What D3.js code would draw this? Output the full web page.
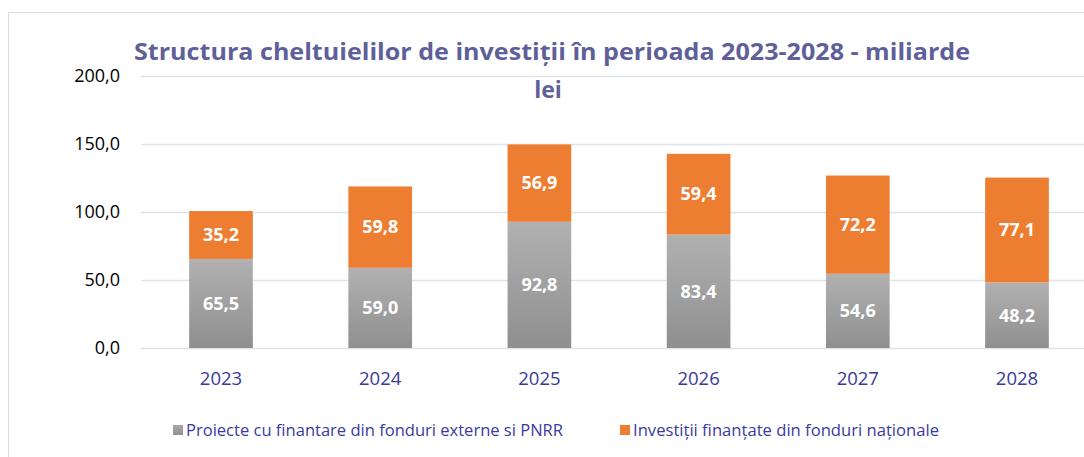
<!DOCTYPE html>
<html><head><meta charset="utf-8">
<script src="https://cdn.jsdelivr.net/npm/d3@7"></script>
<style>body{margin:0;background:#fff;}svg{display:block;}</style>
</head><body>
<script>
const categories = ["2023","2024","2025","2026","2027","2028"];
const externe = [65.5, 59.0, 92.8, 83.4, 54.6, 48.2];
const nationale = [35.2, 59.8, 56.9, 59.4, 72.2, 77.1];
const yTicks = [0, 50, 100, 150, 200];
const seriesNames = ["Proiecte cu finantare din fonduri externe si PNRR", "Investiții finanțate din fonduri naționale"];

const W = 1084, H = 457;
const svg = d3.select("body").append("svg").attr("width", W).attr("height", H);
const defs = svg.append("defs");
const grad = defs.append("linearGradient").attr("id","gray").attr("x1",0).attr("y1",0).attr("x2",0).attr("y2",1);
grad.append("stop").attr("offset","0%").attr("stop-color","#b1b1b1");
grad.append("stop").attr("offset","100%").attr("stop-color","#8f8f8f");
const lgrad = defs.append("linearGradient").attr("id","grayL").attr("x1",0).attr("y1",0).attr("x2",0).attr("y2",1);
lgrad.append("stop").attr("offset","0%").attr("stop-color","#a8a8a8");
lgrad.append("stop").attr("offset","100%").attr("stop-color","#8f8f8f");

// chart border
svg.append("rect").attr("x",8.5).attr("y",12.5).attr("width",1200).attr("height",500)
  .attr("fill","none").attr("stroke","#d9dde6").attr("stroke-width",1);

const x = d3.scaleBand().domain(categories).range([141.4, 1096.6]).paddingInner(0.6).paddingOuter(0.3);
const y = d3.scaleLinear().domain([0, 200]).range([348, 76]);

// gridlines
svg.append("g").selectAll("line").data(yTicks).join("line")
  .attr("x1", 141).attr("x2", 1084)
  .attr("y1", d => Math.round(y(d)) + 0.5).attr("y2", d => Math.round(y(d)) + 0.5)
  .attr("stroke", "#dfe3ea").attr("stroke-width", 1.5);

// y axis labels
const fmt = d => d3.format(".1f")(d).replace(".", ",");
svg.append("g").selectAll("text").data(yTicks).join("text")
  .attr("x", 120).attr("y", d => y(d)).attr("dy","0.35em")
  .attr("text-anchor","end").attr("font-family","'Open Sans', sans-serif").attr("font-size",18)
  .attr("fill","#000").text(fmt);

// bars
const g = svg.append("g");
categories.forEach((c,i) => {
  const bx = x(c), bw = x.bandwidth();
  g.append("rect").attr("x",bx).attr("width",bw)
    .attr("y", y(externe[i])).attr("height", y(0)-y(externe[i])).attr("fill","url(#gray)");
  g.append("rect").attr("x",bx).attr("width",bw)
    .attr("y", y(externe[i]+nationale[i])).attr("height", y(externe[i])-y(externe[i]+nationale[i])).attr("fill","#ed7d31");
  g.append("text").attr("x", bx+bw/2).attr("y", (y(0)+y(externe[i]))/2).attr("dy","0.35em")
    .attr("text-anchor","middle").attr("font-family","'Open Sans', sans-serif").attr("font-weight","bold")
    .attr("font-size",18).attr("fill","#fff").text(fmt(externe[i]));
  g.append("text").attr("x", bx+bw/2).attr("y", (y(externe[i])+y(externe[i]+nationale[i]))/2).attr("dy","0.35em")
    .attr("text-anchor","middle").attr("font-family","'Open Sans', sans-serif").attr("font-weight","bold")
    .attr("font-size",18).attr("fill","#fff").text(fmt(nationale[i]));
});

// x labels
svg.append("g").selectAll("text").data(categories).join("text")
  .attr("x", d => x(d)+x.bandwidth()/2).attr("y", 379).attr("dy","0.35em")
  .attr("text-anchor","middle").attr("font-family","'Open Sans', sans-serif").attr("font-size",18.5)
  .attr("fill","#3a3a98").text(d => d);

// title
const title = svg.append("text").attr("text-anchor","middle")
  .attr("font-family","'Open Sans', sans-serif").attr("font-weight","bold").attr("font-size",23)
  .attr("fill","#5f5f9a");
title.append("tspan").attr("x",552).attr("y",60).attr("textLength",836).attr("lengthAdjust","spacingAndGlyphs")
  .text("Structura cheltuielilor de investiții în perioada 2023-2028 - miliarde");
title.append("tspan").attr("x",548).attr("y",98).text("lei");

// legend
const leg = [{x:173, fill:"url(#grayL)", t:seriesNames[0], len:377},{x:620, fill:"#ed7d31", t:seriesNames[1], len:306}];
leg.forEach(l => {
  svg.append("rect").attr("x",l.x).attr("y",425).attr("width",10).attr("height",10).attr("fill",l.fill);
  svg.append("text").attr("x",l.x+13).attr("y",430).attr("dy","0.35em")
    .attr("textLength", l.len).attr("lengthAdjust","spacingAndGlyphs")
    .attr("font-family","'Open Sans', sans-serif").attr("font-size",16).attr("fill","#3a3aa0").text(l.t);
});
</script>
</body></html>
